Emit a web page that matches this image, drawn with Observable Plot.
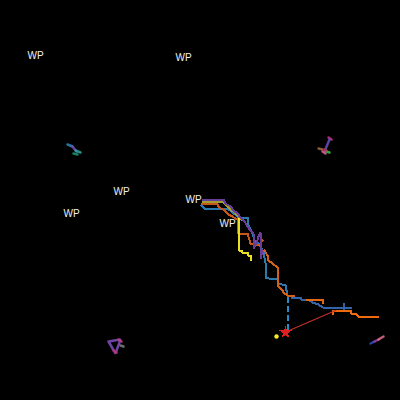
<!DOCTYPE html>
<html><head><meta charset="utf-8">
<script src="https://cdn.jsdelivr.net/npm/d3@7"></script>
<script src="https://cdn.jsdelivr.net/npm/@observablehq/plot@0.6"></script>
<style>html,body{margin:0;padding:0;background:#000;overflow:hidden}</style>
</head><body><div id="chart"></div>
<script>
// track series (screen-like map coordinates)
const purplePath = [[202,199],[223,199],[225,203],[230,206],[233,210],[237,213],[240,217],[244,221],[247,226],[250,230],[253,233],[253,248],[256,243],[258,236],[260,232],[260,258],[262,250]];
const olivePath = [[202,201],[222,201],[226,205],[230,209],[234,212],[237,215],[241,219]];
const orangePath = [[201,203],[216,203],[219,207],[224,210],[228,214],[232,216],[235,218],[237,218],[237,233],[247,233],[250,243],[258,245],[262,240]];
const bluePath = [[201,205],[204,208],[223,208],[227,208],[232,212],[238,217],[247,217],[248,225],[252,233],[254,240],[259,244],[263,252],[265,262],[265,277],[268,278],[277,278],[278,283],[285,285],[287,295]];
const yellowPath = [[238,218],[238,250],[241,250],[241,252],[247,252],[247,255],[250,255],[250,259]];
const orange2Path = [[264,250],[267,255],[268,260],[272,263],[277,267],[277,285],[282,290],[283,292],[287,295],[293,295],[293,297]];
const orange3Path = [[306,299],[322,299],[322,302]];
const darkBluePath = [[291,297],[300,297],[300,299],[308,299],[312,302],[318,304],[322,307],[350,307]];
const darkBlueTick = [[343,303],[343,310]];
const orange4Path = [[332,313],[332,310],[350,310],[350,313],[355,313],[358,316],[377,316]];
const dashedBlue = [[287,296],[287,331]];
const redLine = [[284,332],[335,310]];
const redStar = [[285,332]];
const yellowDot = [[276,336]];

// small glyph clusters
const clusterA = [
  {c:"#2a8ac0", p:[[67,144],[72,146]]},
  {c:"#7a4cc0", p:[[72,146],[76,151]]},
  {c:"#2aa8a0", p:[[75,150],[80,152]]},
  {c:"#1a9a70", p:[[73,153],[77,154]]}
];
const clusterB = [
  {c:"#d0308a", p:[[328,137],[331,139]]},
  {c:"#6a50c0", p:[[329,139],[324,151]]},
  {c:"#a06a40", p:[[318,148],[322,149]]},
  {c:"#e060a0", p:[[322,151],[325,153]]},
  {c:"#40c040", p:[[326,151],[329,152]]},
  {c:"#c03050", p:[[324,149],[326,150]]}
];
const clusterC = [
  {c:"#8050c0", p:[[108,341],[120,339],[115,353],[108,341]]},
  {c:"#c04080", p:[[118,339],[121,341]]},
  {c:"#808080", p:[[120,345],[123,346]]},
  {c:"#c03070", p:[[113,350],[116,352]]}
];
const clusterD = [
  {c:"#3050c0", p:[[370,343],[374,341]]},
  {c:"#a040a0", p:[[374,341],[378,339]]},
  {c:"#e07090", p:[[378,339],[383,336]]}
];

const wpLabels = [[35,55],[183,57],[121,191],[71,213],[193,199],[227,223]];

const toPts = a => a.map(([x,y]) => ({x,y}));
const lineMark = (a, stroke, extra={}) => Plot.line(toPts(a), {x:"x", y:"y", stroke, strokeWidth:2, strokeLinejoin:"miter", strokeLinecap:"square", shapeRendering:"crispEdges", ...extra});

const marks = [
  lineMark(bluePath, "#2a7ab0"),
  lineMark(orangePath, "#c8581a"),
  lineMark(olivePath, "#a0a030"),
  lineMark(purplePath, "#6a3d9a"),
  lineMark(yellowPath, "#e8e020"),
  lineMark(orange2Path, "#d2601a"),
  lineMark(darkBluePath, "#3464a8"),
  lineMark(darkBlueTick, "#3464a8"),
  lineMark(orange3Path, "#e06818"),
  lineMark(orange4Path, "#f06a10"),
  lineMark(dashedBlue, "#2a8ac8", {strokeDasharray:"6,3", strokeLinecap:"butt"}),
  lineMark(redLine, "#c03028", {strokeWidth:1.2, shapeRendering:"auto"}),
  Plot.dot(toPts(redStar), {x:"x", y:"y", symbol:"star", r:4, fill:"#e02020", shapeRendering:"crispEdges"}),
  Plot.dot(toPts(yellowDot), {x:"x", y:"y", r:2.2, fill:"#f0f020"}),
];
for (const cl of [clusterA, clusterB, clusterC, clusterD])
  for (const s of cl) marks.push(lineMark(s.p, s.c, {strokeWidth:2.5, strokeOpacity:0.85, strokeLinecap:"round", shapeRendering:"auto"}));
marks.push(Plot.text(toPts(wpLabels), {x:"x", y:"y", text:() => "WP", fill:"#f0f0f0", fontSize:10, fontWeight:"normal", fontFamily:"Liberation Sans, Arial, sans-serif"}));

const chart = Plot.plot({
  width:400, height:400, margin:0,
  style:{background:"#000", color:"#fff"},
  x:{domain:[0,400], axis:null},
  y:{domain:[400,0], axis:null},
  marks
});
document.getElementById("chart").appendChild(chart);
</script></body></html>
